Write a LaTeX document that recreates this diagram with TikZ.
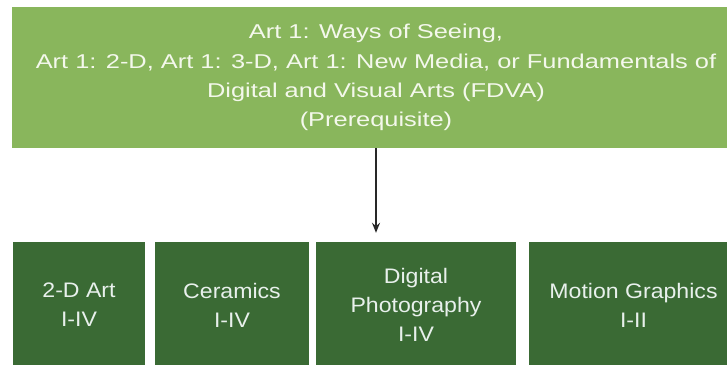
\documentclass[tikz,border=0pt]{standalone}
\usepackage{fontspec}
\usetikzlibrary{arrows.meta}
\newfontfamily\topfont[FakeStretch=1.27]{Liberation Sans}
\newfontfamily\botfont[FakeStretch=1.1]{Liberation Sans}
\definecolor{lightgreen}{RGB}{137,182,92}
\definecolor{darkgreen}{RGB}{58,106,52}
\definecolor{toptext}{RGB}{244,248,236}
\definecolor{bottext}{RGB}{232,240,236}
\definecolor{arrowgray}{RGB}{40,40,40}
\tikzset{
  topbox/.style={rectangle, fill=lightgreen, draw=none, inner sep=0pt, align=center,
    text=toptext, font={\topfont\fontsize{20}{29.3}\selectfont}},
  botbox/.style={rectangle, fill=darkgreen, draw=none, inner sep=0pt, align=center,
    text=bottext, font={\botfont\fontsize{21}{29}\selectfont}, minimum height=126pt},
  arr/.style={draw=arrowgray, line width=1.4pt, -{Stealth[length=10pt,width=8pt]}}
}
\begin{document}
\begin{tikzpicture}[x=1pt,y=-1pt]
\clip (0,0) rectangle (727,364);
\fill[white] (0,0) rectangle (727,364);
\node[topbox, minimum width=728pt, minimum height=141pt] (top) at (376,77.5)
  {Art 1: Ways of Seeing,\\Art 1: 2-D, Art 1: 3-D, Art 1: New Media, or Fundamentals of\\Digital and Visual Arts (FDVA)\\(Prerequisite)};
\node[botbox, minimum width=132pt] (twod) at (79,305) {2-D Art\\I-IV};
\node[botbox, minimum width=154pt] (cer) at (232,305) {Ceramics\\I-IV};
\node[botbox, minimum width=200pt] (dp) at (416,305) {Digital\\Photography\\I-IV};
\node[botbox, minimum width=209pt] (mg) at (633.5,305) {Motion Graphics\\I-II};
\draw[arr, shorten >=9pt] (top.south) -- (top.south |- dp.north);
\end{tikzpicture}
\end{document}
